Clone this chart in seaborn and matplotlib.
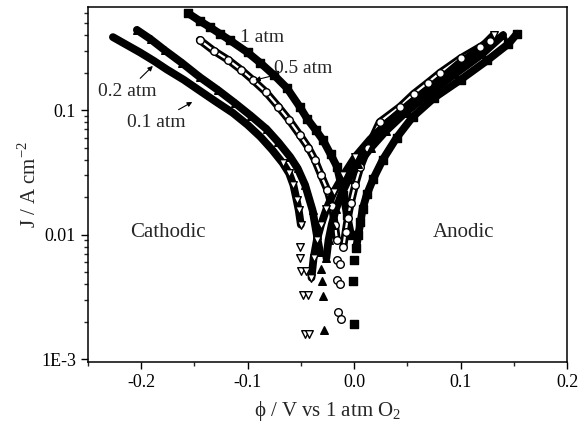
import matplotlib
matplotlib.use("Agg")
import matplotlib.pyplot as plt
import seaborn as sns
from matplotlib.ticker import LogLocator, NullFormatter

# --- data (potential in V, current density in A/cm2) ---
# 1 atm O2 : filled squares
v1_cath = [-0.156, -0.145, -0.135, -0.126, -0.117, -0.100, -0.088, -0.075, -0.063, -0.051,
           -0.044, -0.036, -0.029, -0.022, -0.016, -0.010, -0.0066, -0.003]
j1_cath = [0.60, 0.52, 0.46, 0.41, 0.365, 0.29, 0.239, 0.19, 0.150, 0.106,
           0.085, 0.069, 0.057, 0.044, 0.035, 0.0208, 0.0144, 0.010]
v1_low = [0.000, -0.001, 0.000]
j1_low = [0.0062, 0.0042, 0.0019]
v1_anod = [0.002, 0.004, 0.006, 0.008, 0.012, 0.018, 0.027, 0.040, 0.055, 0.075,
           0.100, 0.125, 0.145, 0.153]
j1_anod = [0.0078, 0.0100, 0.0125, 0.0160, 0.021, 0.028, 0.040, 0.060, 0.088, 0.125,
           0.175, 0.25, 0.34, 0.41]

# 0.5 atm O2 : open circles
v05_cath = [-0.145, -0.132, -0.118, -0.106, -0.095, -0.083, -0.071, -0.061, -0.051, -0.043,
            -0.037, -0.031, -0.025, -0.021, -0.018, -0.016]
j05_cath = [0.365, 0.30, 0.252, 0.21, 0.174, 0.14, 0.106, 0.083, 0.063, 0.050,
            0.040, 0.030, 0.0227, 0.017, 0.012, 0.009]
v05_low = [-0.016, -0.013, -0.016, -0.013, -0.015, -0.012]
j05_low = [0.0062, 0.0058, 0.0043, 0.0040, 0.0024, 0.0021]
v05_anod = [-0.010, -0.008, -0.006, -0.003, 0.001, 0.006, 0.013, 0.024, 0.043, 0.056,
            0.069, 0.081, 0.100, 0.118, 0.128]
j05_anod = [0.0080, 0.0105, 0.0135, 0.018, 0.025, 0.035, 0.050, 0.080, 0.106, 0.135,
            0.165, 0.20, 0.26, 0.32, 0.36]

# 0.2 atm O2 : filled up-triangles
v02_cath = [-0.204, -0.191, -0.178, -0.162, -0.145, -0.128, -0.112, -0.097, -0.082, -0.071,
            -0.060, -0.053, -0.046, -0.039, -0.035, -0.032]
j02_cath = [0.44, 0.37, 0.303, 0.24, 0.184, 0.145, 0.114, 0.090, 0.070, 0.055,
            0.042, 0.034, 0.025, 0.0157, 0.0099, 0.0072]
v02_low = [-0.031, -0.030, -0.029, -0.028]
j02_low = [0.0053, 0.0042, 0.0032, 0.0017]
v02_anod = [-0.026, -0.024, -0.021, -0.017, -0.012, -0.005, 0.004, 0.016, 0.030, 0.048,
            0.070, 0.095, 0.120, 0.140]
j02_anod = [0.0065, 0.0090, 0.012, 0.016, 0.021, 0.028, 0.037, 0.050, 0.068, 0.095,
            0.135, 0.195, 0.28, 0.40]

# 0.1 atm O2 : open down-triangles
v01_cath = [-0.2265, -0.214, -0.201, -0.188, -0.176, -0.160, -0.145, -0.130, -0.114, -0.100,
            -0.088, -0.077, -0.067, -0.061, -0.057, -0.054, -0.052, -0.050]
j01_cath = [0.385, 0.335, 0.29, 0.248, 0.212, 0.175, 0.143, 0.117, 0.095, 0.076,
            0.061, 0.048, 0.0375, 0.031, 0.025, 0.019, 0.0157, 0.012]
v01_low = [-0.051, -0.051, -0.050, -0.045, -0.048, -0.043, -0.046, -0.042]
j01_low = [0.0080, 0.0065, 0.0051, 0.0051, 0.0033, 0.0033, 0.0016, 0.0016]
v01_anod = [-0.040, -0.038, -0.035, -0.031, -0.026, -0.019, -0.010, 0.001, 0.015, 0.032,
            0.052, 0.075, 0.098, 0.118, 0.131]
j01_anod = [0.0045, 0.0065, 0.009, 0.012, 0.016, 0.022, 0.030, 0.042, 0.058, 0.080,
            0.112, 0.160, 0.235, 0.31, 0.40]

series = [
    ("1 atm", v1_cath, j1_cath, v1_low, j1_low, v1_anod, j1_anod, "s", "k", False),
    ("0.5 atm", v05_cath, j05_cath, v05_low, j05_low, v05_anod, j05_anod, "o", "white", True),
    ("0.2 atm", v02_cath, j02_cath, v02_low, j02_low, v02_anod, j02_anod, "^", "k", False),
    ("0.1 atm", v01_cath, j01_cath, v01_low, j01_low, v01_anod, j01_anod, "v", "white", False),
]

sns.set_style("ticks")
plt.rcParams['font.family'] = ['Liberation Serif', 'DejaVu Serif']
plt.rcParams['mathtext.fontset'] = 'custom'
plt.rcParams['mathtext.rm'] = 'Liberation Serif'

fig = plt.figure(figsize=(5.86, 4.29), dpi=100)
ax = fig.add_axes([0.150, 0.156, 0.8176, 0.8277])

# thick bands for the dense branches, then the markers on top
for name, vc, jc, vl, jl, va, ja, mk, face, hollow in series:
    for vv, jj in [(vc, jc), (va, ja)]:
        sns.lineplot(x=vv, y=jj, sort=False, estimator=None, color="k", lw=5.6, ax=ax)
        if hollow:
            sns.lineplot(x=vv, y=jj, sort=False, estimator=None, color="white", lw=1.6, ax=ax)

for name, vc, jc, vl, jl, va, ja, mk, face, hollow in series:
    for vv, jj in [(vc, jc), (vl, jl), (va, ja)]:
        if name == "0.1 atm":
            # open triangles only stand out where the chain thins out
            keep = [i for i, j in enumerate(jj) if j < 0.045 or i == len(jj) - 1 and jj is j01_anod]
            vv = [vv[i] for i in keep]
            jj = [jj[i] for i in keep]
        sns.scatterplot(x=vv, y=jj, marker=mk, s=30, color=face, edgecolor="k",
                        linewidth=1.0, ax=ax, zorder=3)

ax.set_yscale("log")
ax.set_xlim(-0.25, 0.2)
ax.set_ylim(9.46e-4, 0.672)

ax.set_xticks([-0.2, -0.1, 0.0, 0.1, 0.2])
ax.set_xticklabels(["-0.2", "-0.1", "0.0", "0.1", "0.2"])
ax.set_xticks([-0.25, -0.15, -0.05, 0.05, 0.15], minor=True)
ax.set_yticks([1e-3, 1e-2, 1e-1])
ax.set_yticklabels(["1E-3", "0.01", "0.1"])
ax.yaxis.set_minor_locator(LogLocator(base=10, subs=range(2, 10)))
ax.yaxis.set_minor_formatter(NullFormatter())
ax.tick_params(which="major", direction="out", length=5, width=1, labelsize=13, colors="k")
ax.tick_params(which="minor", direction="out", length=3, width=1)
for sp in ax.spines.values():
    sp.set_linewidth(1.1)
    sp.set_color("k")

ax.set_xlabel(r"ϕ / V vs 1 atm O$_\mathregular{2}$", fontsize=15, labelpad=6)
ax.set_ylabel(r"J / A cm$^\mathregular{-2}$", fontsize=15, labelpad=0)

ax.text(-0.2105, 0.0103, "Cathodic", fontsize=15, va="center", ha="left")
ax.text(0.074, 0.0103, "Anodic", fontsize=15, va="center", ha="left")

arrow = dict(arrowstyle="-|>", lw=0.8, color="k", mutation_scale=7, shrinkA=1, shrinkB=0)
ax.annotate("1 atm", xy=(-0.117, 0.358), xytext=(-0.107, 0.385), fontsize=14,
            va="center", ha="left", arrowprops=arrow)
ax.annotate("0.5 atm", xy=(-0.093, 0.174), xytext=(-0.075, 0.217), fontsize=14,
            va="center", ha="left", arrowprops=arrow)
ax.annotate("0.2 atm", xy=(-0.189, 0.226), xytext=(-0.2406, 0.142), fontsize=14,
            va="center", ha="left", arrowprops=arrow)
ax.annotate("0.1 atm", xy=(-0.152, 0.116), xytext=(-0.2133, 0.080), fontsize=14,
            va="center", ha="left", arrowprops=arrow)

fig.savefig("out.png", dpi=100)
